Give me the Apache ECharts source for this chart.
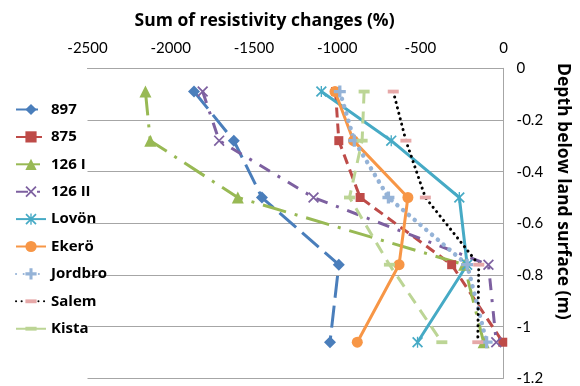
<!DOCTYPE html>
<html>
<head>
<meta charset="utf-8">
<script src="https://cdn.jsdelivr.net/npm/echarts@6/dist/echarts.min.js"></script>
<style>
  html, body { margin: 0; padding: 0; background: #fff; }
  #chart { width: 580px; height: 386px; }
</style>
</head>
<body>
<div id="chart"></div>
<script>
// Depth of each measurement level (m, negative = below surface)
const depths = [-0.09, -0.28, -0.5, -0.76, -1.06];

// Summed resistivity change (%) at each depth, per site
const site897    = [-1860, -1621, -1452, -990, -1043];
const site875    = [-1010, -990, -862, -312, -5];
const site126I   = [-2152, -2123, -1597, -237, -120];
const site126II  = [-1808, -1709, -1142, -91, -44];
const siteLovon  = [-1095, -675, -266, -219, -517];
const siteEkero  = [-1013, -902, -575, -628, -879];
const siteJordbro = [-984, -897, -692, -219, -102];
const siteSalem  = [-663, -587, -470, -149, -155];
const siteKista  = [-838, -850, -926, -686, -371];

const xTicks = { min: -2500, max: 0, step: 500 };
const yTicks = { min: -1.2, max: 0, step: 0.2 };

const LABEL_FONT = 'Lato';
const TITLE_FONT = 'Open Sans';

// Marker shapes
const X_PATH = 'path://M0,1.1L1.1,0L10,8.9L8.9,10Z M8.9,0L10,1.1L1.1,10L0,8.9Z';
const STAR_PATH = 'path://M0,1.1L1.1,0L10,8.9L8.9,10Z M8.9,0L10,1.1L1.1,10L0,8.9Z M4.4,0L5.6,0L5.6,10L4.4,10Z';
const PLUS_PATH = 'path://M4,0L7,0L7,4L11,4L11,7L7,7L7,11L4,11L4,7L0,7L0,4L4,4Z';
// short horizontal bar inside a square box, so it keeps its shape at any square size
const DASH_PATH = 'path://M0,0M11,11M0,3.6L11,3.6L11,7.4L0,7.4Z';

function pairs(vals) {
  return vals.map((v, i) => [v, depths[i]]);
}

function makeSeries(name, vals, cfg) {
  return {
    name: name,
    type: 'line',
    data: pairs(vals),
    symbol: cfg.symbol,
    symbolSize: cfg.size,
    showSymbol: true,
    lineStyle: {
      color: cfg.line,
      width: cfg.width || 3,
      type: cfg.dash || 'solid',
      cap: cfg.cap || 'butt'
    },
    itemStyle: { color: cfg.marker || cfg.line, borderWidth: 0 },
    emphasis: { disabled: true }
  };
}

const series = [
  makeSeries('897', site897, { line: '#4A7EBB', symbol: 'diamond', size: 12, dash: [22, 8] }),
  makeSeries('875', site875, { line: '#BE4B48', symbol: 'rect', size: 9, dash: [10, 6] }),
  makeSeries('126 I', site126I, { line: '#98B954', symbol: 'triangle', size: 12, dash: [24, 9, 3, 9] }),
  makeSeries('126 II', site126II, { line: '#7D60A0', symbol: X_PATH, size: 11, dash: [12, 9, 3, 9] }),
  makeSeries('Lovön', siteLovon, { line: '#46AAC5', symbol: STAR_PATH, size: 11 }),
  makeSeries('Ekerö', siteEkero, { line: '#F79646', symbol: 'circle', size: 11 }),
  makeSeries('Jordbro', siteJordbro, { line: '#95B3D7', symbol: PLUS_PATH, size: 12, dash: [0.1, 7.5], cap: 'round', width: 4.5 }),
  makeSeries('Salem', siteSalem, { line: '#000000', marker: '#E6A8A8', symbol: DASH_PATH, size: 11, dash: [0.1, 5.5], cap: 'round', width: 3 }),
  makeSeries('Kista', siteKista, { line: '#BCD595', symbol: DASH_PATH, size: 11, dash: [12, 8] })
];

const chart = echarts.init(document.getElementById('chart'), null, { renderer: 'canvas' });

chart.setOption({
  animation: false,
  backgroundColor: '#ffffff',
  textStyle: { fontFamily: LABEL_FONT },
  grid: { left: 87.5, right: 64.5, top: 68.3, bottom: 7.6 },
  legend: {
    orient: 'vertical',
    left: 10,
    top: 97,
    itemWidth: 30,
    itemHeight: 14,
    itemGap: 12.4,
    data: series.map(s => s.name),
    textStyle: { fontFamily: TITLE_FONT, fontWeight: 'bold', fontSize: 15, color: '#000' },
    selectedMode: false
  },
  xAxis: {
    type: 'value',
    position: 'top',
    min: xTicks.min,
    max: xTicks.max,
    interval: xTicks.step,
    name: 'Sum of resistivity changes (%)',
    nameLocation: 'middle',
    nameGap: 38,
    nameTextStyle: { fontFamily: TITLE_FONT, fontWeight: 'bold', fontSize: 17.5, color: '#000', padding: [0, 62, 0, 0] },
    axisLine: { show: true, lineStyle: { color: '#A6A6A6', width: 1 } },
    axisTick: { show: false },
    splitLine: { show: false },
    axisLabel: { fontFamily: LABEL_FONT, fontSize: 15, color: '#000', margin: 13, formatter: v => String(v) }
  },
  yAxis: {
    type: 'value',
    position: 'right',
    min: yTicks.min,
    max: yTicks.max,
    interval: yTicks.step,
    name: 'Depth below land surface (m)',
    nameLocation: 'middle',
    nameRotate: -90,
    nameGap: 47,
    nameTextStyle: { fontFamily: TITLE_FONT, fontWeight: 'bold', fontSize: 17.5, color: '#000', padding: [0, 64, 0, 0] },
    axisLine: { show: true, lineStyle: { color: '#A6A6A6', width: 1 } },
    axisTick: { show: false },
    splitLine: { show: true, lineStyle: { color: '#A6A6A6', width: 1 } },
    axisLabel: { fontFamily: LABEL_FONT, fontSize: 15, color: '#000', margin: 13 }
  },
  series: series
});
</script>
</body>
</html>
